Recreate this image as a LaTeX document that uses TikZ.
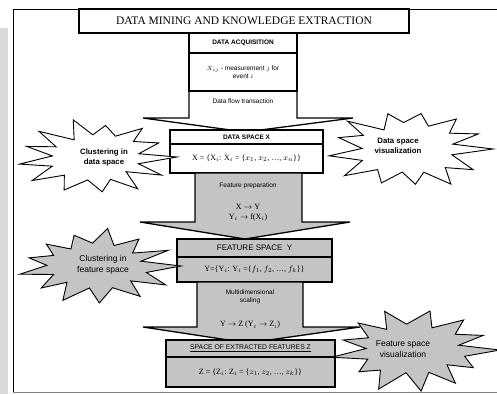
\documentclass[tikz,border=0pt]{standalone}
\usepackage{fontspec}
\setmainfont{Liberation Serif}
\setsansfont{Liberation Sans}
\definecolor{fillgray}{HTML}{C4C4C4}
\definecolor{stripgray}{HTML}{D9D9D9}
\newcommand\mkburst[6]{% cx, cy, rx, ry, fill, seed
  \pgfmathsetseed{#6}
  \filldraw[burstline, fill=#5] ({#1+#3},#2)
    \foreach \i [evaluate=\i as \rr using {mod(\i,2)==0 ? 0.8+0.22*rnd : 0.52+0.1*rnd},
                 evaluate=\i as \aa using {\i*360/26+5*rnd}] in {1,...,25}
      { -- ({#1+\rr*#3*cos(\aa)},{#2+\rr*#4*sin(\aa)}) } -- cycle;
}
\begin{document}
\begin{tikzpicture}[x=1pt,y=-1pt,
  cell/.style={draw, line width=1.1pt, inner sep=0pt, align=center, font=\sffamily\fontsize{6.5}{7.5}\selectfont},
  hdr/.style={cell, font=\sffamily\bfseries\fontsize{6.5}{7.5}\selectfont},
  formula/.style={cell, font=\fontsize{8}{9}\selectfont},
  flowarrow/.style={draw, line width=1.3pt, line join=miter},
  note/.style={inner sep=0pt, align=center, font=\sffamily\fontsize{6.5}{8}\selectfont},
  burstline/.style={draw, line width=0.9pt, line join=miter},
  bursttext/.style={inner sep=0pt, align=center, font=\sffamily\fontsize{8.5}{10.5}\selectfont},
  burstbold/.style={bursttext, font=\sffamily\bfseries\fontsize{7.8}{10}\selectfont}
]
\useasboundingbox (0,0) rectangle (497,394);
\fill[white] (0,0) rectangle (497,394);
\fill[stripgray] (0,28) rectangle (8,394);
% outer frame
\draw[line width=0.9pt] (497,9) -- (13,9) -- (13,392);
\draw[line width=0.9pt, gray] (13,392) -- (497,392);
% title
\node[draw, line width=1.1pt, minimum width=330pt, minimum height=24pt, inner sep=0pt, font=\fontsize{11.5}{13}\selectfont] (title) at (244,21) {DATA MINING AND KNOWLEDGE EXTRACTION};
% data acquisition
\path[flowarrow, fill=white] (189,91) -- (189,118) -- (143,118) -- (245,132) -- (353,118) -- (297,118) -- (297,91) -- cycle;
\node[note] (flow) at (243,101) {Data flow transaction};
\node[hdr, minimum width=108pt, minimum height=20pt] (acqh) at (243,43) {DATA ACQUISITION};
\node[cell, minimum width=108pt, minimum height=38pt, fill=white] (acqb) at (243,72) {$X_{ij}$ - measurement $j$ for\\ event $i$};
% data space
\node[hdr, fill=white, minimum width=153pt, minimum height=14pt] (dsh) at (246.5,137) {DATA SPACE X};
\node[formula, fill=white, minimum width=153pt, minimum height=29pt] (dsb) at (246.5,158.5) {X = \{X$_i$: X$_i$ = \{$x_1$, $x_2$, \dots, $x_n$\}\}};
% feature preparation arrow
\path[flowarrow, fill=fillgray] (195,173) -- (195,222) -- (140,222) -- (245,239) -- (350,222) -- (302,222) -- (302,173) -- cycle;
\node[note] (fp) at (248,186) {Feature preparation};
\node[note, font=\fontsize{8}{10}\selectfont] (fpm) at (248,213) {X $\rightarrow$ Y\\ Y$_i$ $\rightarrow$ f(X$_i$)};
% feature space
\node[hdr, fill=fillgray, font=\sffamily\fontsize{8}{9}\selectfont, minimum width=155pt, minimum height=18pt] (fsh) at (254.5,248) {FEATURE SPACE\ \ Y};
\node[formula, fill=fillgray, minimum width=155pt, minimum height=25pt] (fsb) at (254.5,269.5) {Y=\{Y$_i$: Y$_i$ =\{$f_1$, $f_2$, \dots, $f_k$\}\}};
% multidimensional scaling arrow
\path[flowarrow, fill=fillgray] (197,282) -- (197,327) -- (143,327) -- (248,343) -- (360,327) -- (303,327) -- (303,282) -- cycle;
\node[note] (mds) at (250,297) {Multidimensional\\ scaling};
\node[note, font=\fontsize{8}{10}\selectfont] (mdsm) at (250,325) {Y $\rightarrow$ Z (Y$_i$ $\rightarrow$ Z$_i$)};
% extracted features
\node[cell, fill=fillgray, minimum width=169pt, minimum height=17pt, font=\sffamily\fontsize{6.8}{8}\selectfont] (exh) at (250.5,348.5) {\underline{SPACE OF EXTRACTED FEATURES Z}};
\node[formula, fill=fillgray, minimum width=169pt, minimum height=30pt] (exb) at (250.5,372) {Z = \{Z$_i$: Z$_i$ = \{$z_1$, $z_2$, \dots, $z_k$\}\}};
% bursts
\mkburst{96}{157}{81}{38}{white}{3}
\node[burstbold] (cds) at (104,157) {Clustering in\\ data space};
\mkburst{408}{149}{85}{43}{white}{7}
\node[burstbold] (dsv) at (398,146) {Data space\\ visualization};
\mkburst{96}{266}{85}{39}{fillgray}{11}
\node[bursttext] (cfs) at (103,265) {Clustering in\\ feature space};
\mkburst{413}{350}{87}{42}{fillgray}{5}
\node[bursttext] (fsv) at (403,349) {Feature space\\ visualization};
\end{tikzpicture}
\end{document}
